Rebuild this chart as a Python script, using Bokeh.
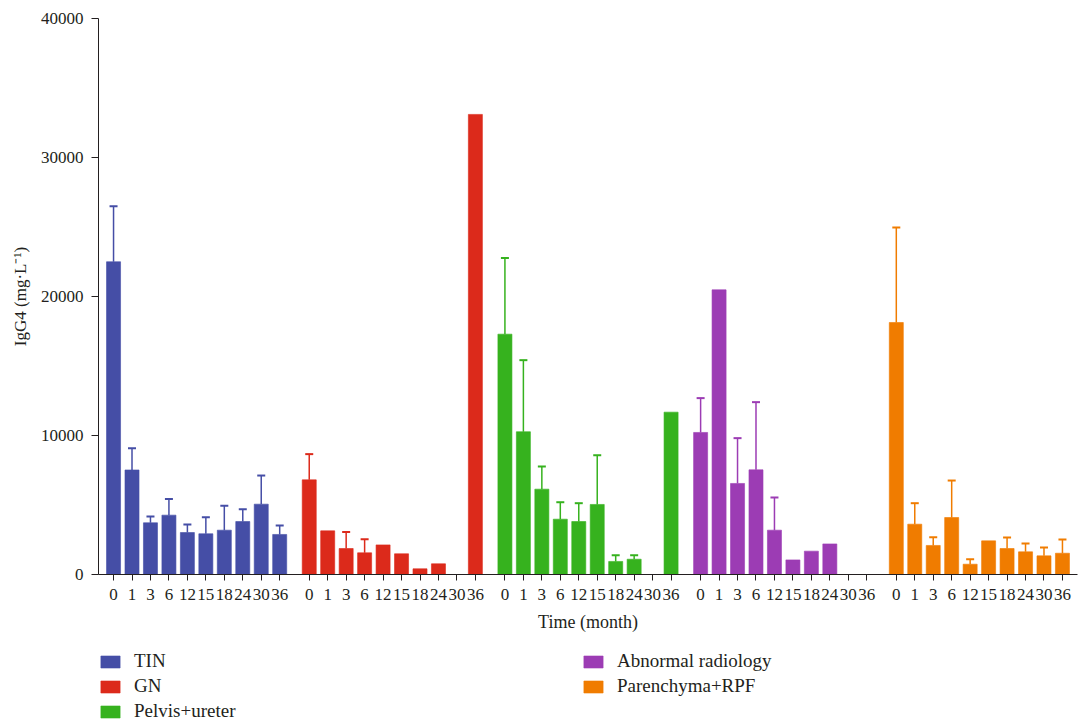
from bokeh.plotting import figure
from bokeh.layouts import column
from bokeh.models import (ColumnDataSource, FactorRange, Range1d, FixedTicker,
                          Whisker, TeeHead, Legend, LegendItem)
from bokeh.embed import file_html
from bokeh.resources import INLINE

# Serum IgG4 (mg/L) by follow-up time for each involvement pattern
times = ["0", "1", "3", "6", "12", "15", "18", "24", "30", "36"]
groups = ["TIN", "GN", "Pelvis+ureter", "Abnormal radiology", "Parenchyma+RPF"]

tin_mean = [22500, 7520, 3720, 4270, 3020, 2930, 3190, 3810, 5060, 2880]
tin_sd = [4000, 1570, 450, 1170, 580, 1190, 1750, 890, 2060, 650]

gn_mean = [6810, 3140, 1870, 1560, 2130, 1490, 410, 770, None, 33100]
gn_sd = [1850, None, 1180, 980, None, None, None, None, None, None]

pelvis_mean = [17290, 10270, 6140, 3980, 3810, 5040, 940, 1100, None, 11680]
pelvis_sd = [5480, 5150, 1630, 1220, 1320, 3540, 450, 290, None, None]

radiology_mean = [10220, 20480, 6550, 7530, 3190, 1050, 1680, 2200, None, None]
radiology_sd = [2470, None, 3260, 4870, 2350, None, None, None, None, None]

rpf_mean = [18130, 3620, 2090, 4100, 740, 2420, 1870, 1630, 1340, 1530]
rpf_sd = [6830, 1510, 590, 2660, 360, None, 790, 600, 600, 990]

y_ticks = [0, 10000, 20000, 30000, 40000]

means = [tin_mean, gn_mean, pelvis_mean, radiology_mean, rpf_mean]
sds = [tin_sd, gn_sd, pelvis_sd, radiology_sd, rpf_sd]
colors = ["#454EA6", "#DC2A1B", "#36B21E", "#9C3CB4", "#F07C00"]

FONT = "Liberation Serif"
INK = "#231F20"

factors = [(g, t) for g in groups for t in times]
x_range = FactorRange(*factors, group_padding=0.6, factor_padding=0.0,
                      range_padding=0.315, range_padding_units="absolute")

p = figure(x_range=x_range, y_range=Range1d(0, 40000),
           frame_width=979, frame_height=556,
           min_border_left=98, min_border_right=1, min_border_top=18,
           min_border_bottom=62,
           output_backend="svg", toolbar_location=None,
           background_fill_color="white", border_fill_color="white")
p.outline_line_color = None
p.xgrid.grid_line_color = None
p.ygrid.grid_line_color = None

for g, m, s, c in zip(groups, means, sds, colors):
    xs, tops = [], []
    wx, wlo, whi = [], [], []
    for t, v, e in zip(times, m, s):
        if v is None:
            continue
        xs.append((g, t))
        tops.append(v)
        if e is not None:
            wx.append((g, t))
            wlo.append(v)
            whi.append(v + e)
    p.vbar(x=xs, top=tops, width=0.76, fill_color=c, line_color=c,
           line_alpha=0.6)
    if wx:
        wsrc = ColumnDataSource(dict(x=wx, lower=wlo, upper=whi))
        p.add_layout(Whisker(source=wsrc, base="x", lower="lower", upper="upper",
                             dimension="height", line_color=c, line_width=1.5,
                             upper_head=TeeHead(size=8, line_color=c, line_width=2),
                             lower_head=None))

# y axis
yax = p.yaxis[0]
yax.ticker = FixedTicker(ticks=y_ticks)
yax.minor_tick_line_color = None
yax.major_tick_in = 0
yax.major_tick_out = 7
yax.axis_line_color = INK
yax.major_tick_line_color = INK
yax.major_label_text_font = FONT
yax.major_label_text_font_size = "17px"
yax.major_label_text_color = INK
yax.major_label_standoff = 8
yax.axis_label = "IgG4 (mg·L⁻¹)"
yax.axis_label_text_font = FONT
yax.axis_label_text_font_size = "17px"
yax.axis_label_text_font_style = "normal"
yax.axis_label_text_color = INK
yax.axis_label_standoff = 8

# x axis
xax = p.xaxis[0]
xax.major_tick_in = 0
xax.major_tick_out = 6
xax.axis_line_color = INK
xax.major_tick_line_color = INK
xax.major_label_text_font = FONT
xax.major_label_text_font_size = "17px"
xax.major_label_text_color = INK
xax.major_label_standoff = 8
xax.group_text_font_size = "0px"
xax.group_text_color = None
xax.separator_line_color = None
xax.axis_label = "Time (month)"
xax.axis_label_text_font = FONT
xax.axis_label_text_font_size = "18px"
xax.axis_label_text_font_style = "normal"
xax.axis_label_text_color = INK
xax.axis_label_standoff = 9

# legend strip under the chart, two columns (frame aligns with the chart's)
lg = figure(width=1078, height=88, x_range=Range1d(0, 1), y_range=Range1d(0, 1),
            x_axis_type=None, y_axis_type=None, min_border=0,
            output_backend="svg", toolbar_location=None,
            background_fill_color="white", border_fill_color="white")
lg.outline_line_color = None
lg.xgrid.grid_line_color = None
lg.ygrid.grid_line_color = None

legend_items = []
for g, c in zip(groups, colors):
    # hidden stand-in renderer that only supplies the legend swatch style
    swatch = lg.vbar(x=[0.5], top=[1], width=0.5, fill_color=c, line_color=c,
                     line_alpha=0.6, visible=False)
    legend_items.append(LegendItem(label=g, renderers=[swatch]))

legend = Legend(items=legend_items, location=(0, 2), orientation="vertical",
                nrows=3, label_width=444, glyph_width=24, glyph_height=15,
                label_standoff=12, spacing=3, padding=0, margin=0,
                label_height=20, click_policy="none",
                label_text_font=FONT, label_text_font_size="19px",
                label_text_color=INK, border_line_color=None,
                background_fill_alpha=0)
lg.add_layout(legend, "center")

layout = column(p, lg, spacing=0)
open("out.html", "w").write(file_html(layout, INLINE))
